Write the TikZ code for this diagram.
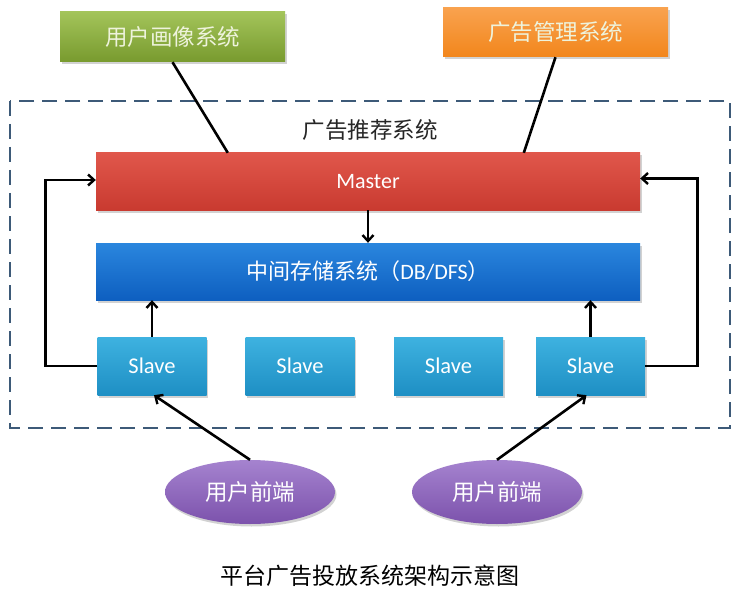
\documentclass[tikz,border=0pt]{standalone}
\usepackage{fontspec}
\setmainfont{Carlito}
\newfontfamily\cjk{Noto Sans CJK SC}
\usetikzlibrary{arrows.meta,shadows,calc,shapes.geometric}
\definecolor{frameC}{HTML}{3D5A78}
\definecolor{greenT}{HTML}{A3C45A}
\definecolor{greenB}{HTML}{789A2E}
\definecolor{orT}{HTML}{F9A24E}
\definecolor{orB}{HTML}{F2861C}
\definecolor{redT}{HTML}{E0574B}
\definecolor{redB}{HTML}{C93A30}
\definecolor{bluT}{HTML}{2A86DE}
\definecolor{bluB}{HTML}{0E5FC0}
\definecolor{slT}{HTML}{3EB2E0}
\definecolor{slB}{HTML}{1E8FC4}
\definecolor{puT}{HTML}{A583CF}
\definecolor{puB}{HTML}{7C52AC}
\definecolor{paleT}{HTML}{EEF3DC}
\tikzset{
  box/.style={draw=none, inner sep=0pt, anchor=center,
    drop shadow={shadow xshift=1.5pt, shadow yshift=-2.5pt, opacity=0.35}},
  topgreen/.style={box, top color=greenT, bottom color=greenB, text=paleT,
    minimum width=225pt, minimum height=50pt, font=\cjk\fontsize{22.5}{26}\selectfont},
  toporange/.style={box, top color=orT, bottom color=orB, text=paleT,
    minimum width=225pt, minimum height=49pt, font=\cjk\fontsize{22.5}{26}\selectfont},
  masterbox/.style={box, top color=redT, bottom color=redB, text=white,
    minimum width=544pt, minimum height=57pt, font=\fontsize{22}{26}\selectfont},
  storebox/.style={box, top color=bluT, bottom color=bluB, text=white,
    minimum width=544pt, minimum height=57pt, font=\fontsize{22}{26}\selectfont},
  slavebox/.style={box, top color=slT, bottom color=slB, text=white,
    minimum width=109pt, minimum height=58pt, font=\fontsize{22.5}{26}\selectfont},
  front/.style={box, ellipse, top color=puT, bottom color=puB, text=white,
    minimum width=170pt, minimum height=64pt, font=\cjk\fontsize{22.5}{26}\selectfont},
  conn/.style={line width=2.6pt, black},
  arr/.style={conn, -{Straight Barb[length=6pt,width=11pt,line width=2.4pt]}},
  frame/.style={draw=frameC, line width=2.6pt, dash pattern=on 15pt off 8pt},
  label/.style={font=\cjk\fontsize{22.5}{26}\selectfont, text=black!85},
}
\begin{document}
\begin{tikzpicture}[x=1pt,y=-1pt]
\useasboundingbox[fill=white] (0,0) rectangle (742,591);
% dashed frame
\draw[frame] (10,101) rectangle (730,428);
\node[label] (rec) at (370,130) {广告推荐系统};
% boxes
\node[topgreen] (user) at (172.5,37) {用户画像系统};
\node[toporange] (mgmt) at (555.5,32.5) {广告管理系统};
\node[masterbox] (master) at (368,181.5) {Master};
\node[storebox] (store) at (368,271.5) {\cjk 中间存储系统（\fontspec{Carlito}DB/DFS\cjk）};
\node[slavebox] (s1) at (152,366) {Slave};
\node[slavebox] (s2) at (300,366) {Slave};
\node[slavebox] (s3) at (448.5,366) {Slave};
\node[slavebox] (s4) at (590.5,366) {Slave};
\node[front] (f1) at (250,492) {用户前端};
\node[front] (f2) at (497,492) {用户前端};
% connectors
\draw[conn] (user.south) -- ($(master.north west)+(132,0)$);
\draw[conn] (mgmt.south) -- ($(master.north west)+(428,0)$);
\draw[arr] (master.south) -- (master.south |- store.north);
\draw[arr] (s1.north) -- (s1.north |- store.south);
\draw[arr] (s4.north) -- (s4.north |- store.south);
\draw[arr] (s1.west) -- ++(-52,0) |- ($(master.west)+(0,-1.5)$);
\draw[arr] (s4.east) -- ++(52,0) |- ($(master.east)+(0,-3)$);
\draw[arr] (f1.north) -- ($(s1.south)+(2,0)$);
\draw[arr] (f2.north) -- ($(s4.south)+(-4,0)$);
% caption
\node[font=\cjk\fontsize{23}{27}\selectfont, text=black] (cap) at (370,576) {平台广告投放系统架构示意图};
\end{tikzpicture}
\end{document}
